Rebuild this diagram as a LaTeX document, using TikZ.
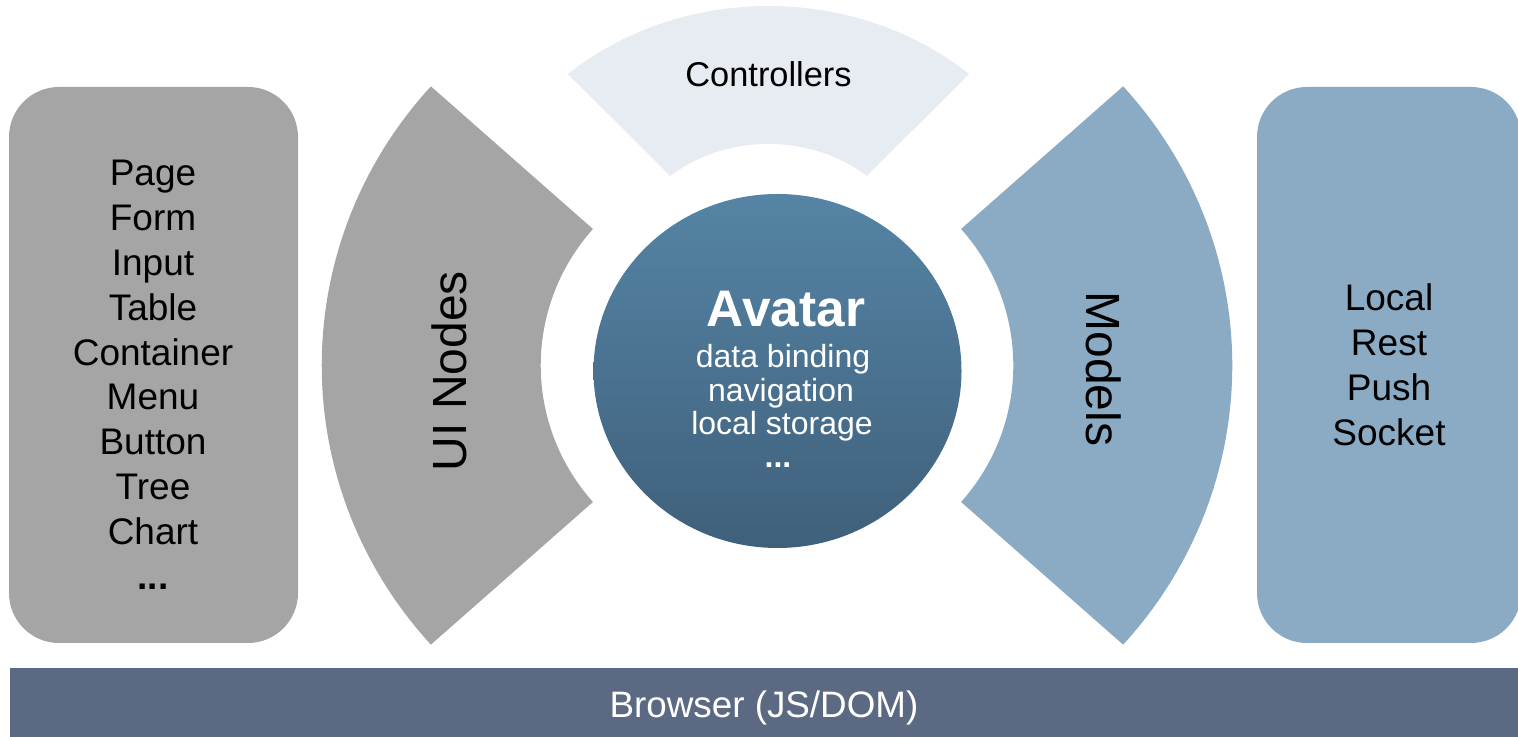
\documentclass[tikz,border=0pt]{standalone}
\usepackage{fontspec}
\setmainfont{Liberation Sans}
\usetikzlibrary{calc}
\definecolor{boxgray}{HTML}{A5A5A5}
\definecolor{boxblue}{HTML}{8BAAC4}
\definecolor{ctrlfill}{HTML}{E7ECF3}
\definecolor{barfill}{HTML}{5B6A82}
\definecolor{avtop}{HTML}{5584A5}
\definecolor{avbot}{HTML}{3F607B}
\tikzset{
  item/.style={anchor=base, inner sep=0pt, font=\fontsize{18.5pt}{22pt}\selectfont},
  sidelabel/.style={inner sep=0pt, font=\fontsize{24pt}{28pt}\selectfont},
  avline/.style={anchor=base, inner sep=0pt, text=white, font=\fontsize{16pt}{20pt}\selectfont},
}
\begin{document}
\begin{tikzpicture}[x=0.5pt,y=0.5pt]
\useasboundingbox (0,0) rectangle (1518,737);
% side boxes
\fill[boxgray, rounded corners=25pt] (9,94) rectangle (298,650);
\fill[boxblue, rounded corners=25pt] (1257,94) rectangle (1521,650);
% browser bar
\fill[barfill] (10,0) rectangle (1518,69);
% controllers block arc
\fill[ctrlfill] ($(768.5,462.5)+(48.3:301.5 and 268.5)$)
  arc[start angle=48.3, end angle=131.7, x radius=301.5, y radius=268.5]
  -- ($(768.5,462.5)+(131:150 and 130.5)$)
  arc[start angle=131, end angle=49, x radius=150, y radius=130.5] -- cycle;
% UI nodes block arc
\fill[boxgray] ($(748.7,371.5)+(138.1:427 and 418)$)
  arc[start angle=138.1, end angle=221.9, x radius=427, y radius=418]
  -- ($(748.7,371.5)+(221.5:208 and 206)$)
  arc[start angle=221.5, end angle=138.5, x radius=208, y radius=206] -- cycle;
% Models block arc
\fill[boxblue] ($(805.3,371.5)+(41.9:427 and 418)$)
  arc[start angle=41.9, end angle=-41.9, x radius=427, y radius=418]
  -- ($(805.3,371.5)+(-41.5:208 and 206)$)
  arc[start angle=-41.5, end angle=41.5, x radius=208, y radius=206] -- cycle;
% Avatar circle
\shade[top color=avtop, bottom color=avbot] (777.5,366) ellipse [x radius=184, y radius=177];
% texts
\foreach \t [count=\i from 0] in {Page,Form,Input,Table,Container,Menu,Button,Tree,Chart}
  \node[item] (ui\i) at (153,{737-186-\i*44.8}) {\t};
\node[item] (uidots) at (153,{737-186-9*44.8}) {\bfseries ...};
\foreach \t [count=\i from 0] in {Local,Rest,Push,Socket}
  \node[item] (src\i) at (1389,{737-311-\i*44.7}) {\t};
\node[anchor=base, inner sep=0pt, font=\fontsize{17.2pt}{20pt}\selectfont] (ctrl) at (768.5,{737-87}) {Controllers};
\node[sidelabel, rotate=90] (uinodes) at (449,366) {UI Nodes};
\node[sidelabel, rotate=-90] (models) at (1104,368) {Models};
\node[anchor=base, inner sep=0pt, text=white, font=\bfseries\fontsize{25.7pt}{30pt}\selectfont] (avatar) at (786,{737-327}) {Avatar};
\node[avline] (av1) at (783,{737-368}) {data binding};
\node[avline] (av2) at (781,{737-401.5}) {navigation};
\node[avline] (av3) at (782,{737-435}) {local storage};
\node[avline] (av4) at (778,{737-468}) {\bfseries ...};
\node[anchor=base, inner sep=0pt, text=white, font=\fontsize{18.4pt}{22pt}\selectfont] (browser) at (764,{737-718}) {Browser (JS/DOM)};
\end{tikzpicture}
\end{document}
